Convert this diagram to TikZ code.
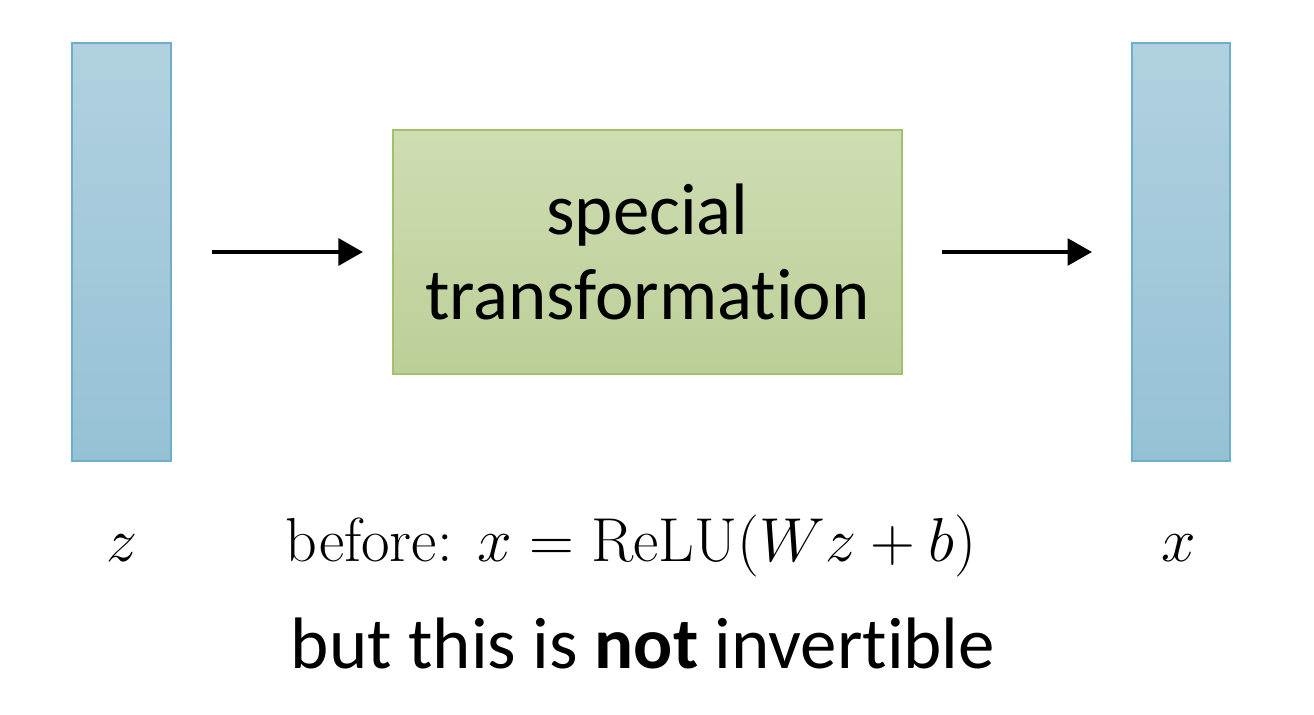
\documentclass[tikz,border=0pt]{standalone}
\usepackage{amsmath}
\usepackage{fontspec}
\newfontfamily\calibri[Ligatures=NoCommon]{Carlito}
\usetikzlibrary{arrows.meta,positioning,calc}

\definecolor{bartop}{HTML}{B1D1E0}
\definecolor{barbot}{HTML}{96C1D5}
\definecolor{barline}{HTML}{6BAFCA}
\definecolor{boxtop}{HTML}{CFDDB3}
\definecolor{boxbot}{HTML}{BCCF97}
\definecolor{boxline}{HTML}{A0C26B}

\begin{document}
\begin{tikzpicture}[x=0.02cm, y=-0.02cm,
            vecbar/.style={draw=barline, line width=1pt, top color=bartop, bottom color=barbot,
                           minimum width=56pt, minimum height=238pt, inner sep=0pt},
            transbox/.style={draw=boxline, line width=1pt, top color=boxtop, bottom color=boxbot,
                           minimum width=290pt, minimum height=139pt, align=center,
                           font=\calibri\fontsize{41.5}{48.7}\selectfont},
            varlabel/.style={inner sep=0pt, scale=1.42, transform shape,
                           font=\fontsize{24.88}{30}\selectfont},
            every path/.style={line width=2.8pt},
            flow/.style={-{Triangle[length=14pt,width=15pt]}}]
        \useasboundingbox (0,0) rectangle (1314,714);
        \node[vecbar] (zbar) at (121.5,252) {};
        \node[vecbar] (xbar) at (1181,252) {};
        \node[transbox] (trans) at (647.5,252) {special\\transformation};
        \draw[flow, shorten <=23.2pt, shorten >=16.4pt] (zbar.east) -- (trans.west);
        \draw[flow, shorten <=22.1pt, shorten >=22.1pt] (trans.east) -- (xbar.west);
        % labels under the picture
        \node[varlabel, anchor=base] (zlab) at (122,561) {$z$};
        \node[varlabel, anchor=base] (xlab) at (1179,561) {$x$};
        \node[varlabel, anchor=base] (rule) at (631,561) {before: $x=\mathrm{ReLU}(Wz+b)$};
        \node[inner sep=0pt, anchor=base, font=\calibri\fontsize{41.5}{48}\selectfont] (note)
            at (643,668) {but this is \textbf{not} invertible};
\end{tikzpicture}
\end{document}
